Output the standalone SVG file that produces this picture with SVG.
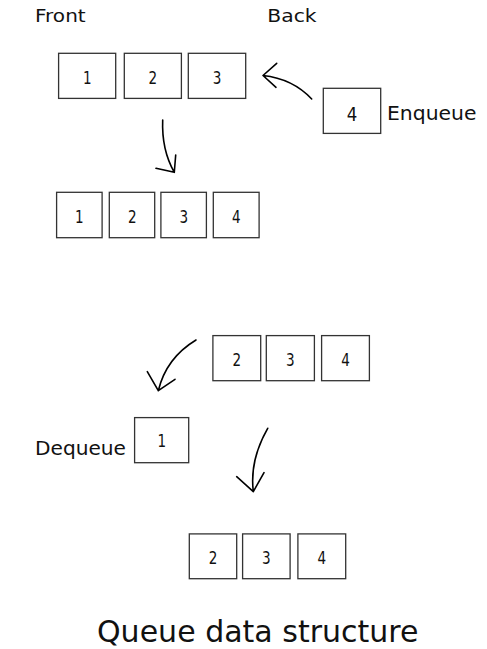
<svg xmlns="http://www.w3.org/2000/svg" width="487" height="649" viewBox="0 0 487 649">
<style>
.box{fill:#fff;stroke:#333;stroke-width:1.3}
.dg{font-family:"DejaVu Sans","Liberation Sans",sans-serif;font-size:18.3px;fill:#111;text-anchor:middle}
.dgl{font-family:"DejaVu Sans","Liberation Sans",sans-serif;font-size:19.5px;fill:#111;text-anchor:middle}
.lbl{font-family:"DejaVu Sans","Liberation Sans",sans-serif;fill:#111}
.arr{fill:none;stroke:#000;stroke-width:1.6;stroke-linecap:round;stroke-linejoin:round}
</style>
<rect width="487" height="649" fill="#fff"/>
<g id="labels">
<text class="lbl" x="35" y="21.7" font-size="17" textLength="50.7" lengthAdjust="spacingAndGlyphs">Front</text>
<text class="lbl" x="267.3" y="21.7" font-size="17" textLength="49.3" lengthAdjust="spacingAndGlyphs">Back</text>
<text class="lbl" x="387" y="120.3" font-size="19.5" textLength="89.5" lengthAdjust="spacingAndGlyphs">Enqueue</text>
<text class="lbl" x="35" y="455" font-size="19.5" textLength="91" lengthAdjust="spacingAndGlyphs">Dequeue</text>
<text class="lbl" x="97" y="641.8" font-size="30" textLength="321.5" lengthAdjust="spacingAndGlyphs">Queue data structure</text>
</g>
<g id="row1">
<g id="r1b1"><rect class="box" x="58.6" y="53.3" width="57.1" height="45.1"/><text class="dg" transform="translate(87.2,83.5) scale(0.74,1)">1</text></g>
<g id="r1b2"><rect class="box" x="124.3" y="53.3" width="57.1" height="45.1"/><text class="dg" transform="translate(152.8,83.5) scale(0.74,1)">2</text></g>
<g id="r1b3"><rect class="box" x="188.3" y="53.3" width="57.4" height="45.1"/><text class="dg" transform="translate(217,83.5) scale(0.74,1)">3</text></g>
</g>
<g id="enqueue-node"><rect class="box" x="323.3" y="88.3" width="57.4" height="45.1"/><text class="dgl" transform="translate(352,120.7) scale(0.85,1)">4</text></g>
<g id="row2">
<g id="r2b1"><rect class="box" x="56.6" y="192.3" width="45.5" height="45.4"/><text class="dg" transform="translate(79.3,222.5) scale(0.74,1)">1</text></g>
<g id="r2b2"><rect class="box" x="109.3" y="192.3" width="45.4" height="45.4"/><text class="dg" transform="translate(132.3,222.5) scale(0.74,1)">2</text></g>
<g id="r2b3"><rect class="box" x="160.9" y="192.3" width="45.5" height="45.4"/><text class="dg" transform="translate(183.7,222.5) scale(0.74,1)">3</text></g>
<g id="r2b4"><rect class="box" x="213.3" y="192.3" width="45.8" height="45.4"/><text class="dg" transform="translate(236.2,222.5) scale(0.74,1)">4</text></g>
</g>
<g id="row3">
<g id="r3b2"><rect class="box" x="212.9" y="335.6" width="47.8" height="45.1"/><text class="dg" transform="translate(236.8,366) scale(0.74,1)">2</text></g>
<g id="r3b3"><rect class="box" x="266.3" y="335.6" width="48.1" height="45.1"/><text class="dg" transform="translate(290.3,366) scale(0.74,1)">3</text></g>
<g id="r3b4"><rect class="box" x="321.6" y="335.6" width="47.8" height="45.1"/><text class="dg" transform="translate(345.5,366) scale(0.74,1)">4</text></g>
</g>
<g id="dequeue-node"><rect class="box" x="134.6" y="417.6" width="54.1" height="45.1"/><text class="dg" transform="translate(161.7,447.3) scale(0.74,1)">1</text></g>
<g id="row4">
<g id="r4b2"><rect class="box" x="189.3" y="533.9" width="47.4" height="44.8"/><text class="dg" transform="translate(213,564) scale(0.74,1)">2</text></g>
<g id="r4b3"><rect class="box" x="242.6" y="533.9" width="47.5" height="44.8"/><text class="dg" transform="translate(266.3,564) scale(0.74,1)">3</text></g>
<g id="r4b4"><rect class="box" x="297.9" y="533.9" width="47.8" height="44.8"/><text class="dg" transform="translate(321.8,564) scale(0.74,1)">4</text></g>
</g>
<g id="connectors">
<path class="arr" d="M311.7,99 Q292.6,78.7 263,75.5 M276.7,63.3 L263,75.5 L276,87.3"/>
<path class="arr" d="M162.7,120 Q161.5,149.8 174.3,172.3 M156,168.3 L174.3,172.3 L175.7,155"/>
<path class="arr" d="M196,340 Q166.2,358 158.3,390.7 M147.3,371.7 L158.3,390.7 L175,379.3"/>
<path class="arr" d="M267.7,428.3 Q249.5,460 253.3,491.7 M236.7,476.7 L253.3,491.7 L264,472.7"/>
</g>
</svg>
